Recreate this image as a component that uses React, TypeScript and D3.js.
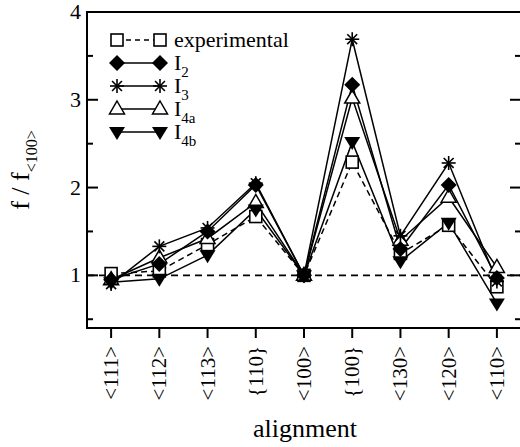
import React, { useEffect, useRef } from 'react';
import * as d3 from 'd3';

const categories = ['<111>', '<112>', '<113>', '{110}', '<100>', '{100}', '<130>', '<120>', '<110>'];
const experimental = [1.02, 1.05, 1.35, 1.67, 1.0, 2.29, 1.25, 1.57, 0.87];
const i2 = [0.95, 1.13, 1.5, 2.03, 1.0, 3.17, 1.3, 2.03, 0.97];
const i3 = [0.9, 1.33, 1.54, 2.05, 1.0, 3.69, 1.45, 2.28, 0.93];
const i4a = [0.95, 1.2, 1.42, 1.83, 1.0, 3.02, 1.4, 1.89, 1.09];
const i4b = [0.92, 0.96, 1.23, 1.75, 1.0, 2.52, 1.16, 1.6, 0.68];
const yTicks = [1, 2, 3, 4];
const yMinor = [0.5, 1.5, 2.5, 3.5];

type Series = { key: string; sub: string; values: number[]; marker: string; dashed: boolean };
const series: Series[] = [
  { key: 'experimental', sub: '', values: experimental, marker: 'square', dashed: true },
  { key: 'I', sub: '2', values: i2, marker: 'diamond', dashed: false },
  { key: 'I', sub: '3', values: i3, marker: 'star', dashed: false },
  { key: 'I', sub: '4a', values: i4a, marker: 'triangle', dashed: false },
  { key: 'I', sub: '4b', values: i4b, marker: 'invtriangle', dashed: false },
];
// open markers go under the filled ones
const drawOrder = [0, 3, 1, 2, 4];

const FONT = 'Times New Roman, Times, Liberation Serif, DejaVu Serif, serif';

function drawMarker(g: any, type: string, x: number, y: number) {
  if (type === 'square') {
    g.append('rect').attr('x', x - 6).attr('y', y - 6).attr('width', 12).attr('height', 12)
      .attr('fill', '#fff').attr('stroke', '#000').attr('stroke-width', 1.6);
  } else if (type === 'diamond') {
    g.append('path').attr('d', `M${x},${y - 8}L${x + 8},${y}L${x},${y + 8}L${x - 8},${y}Z`)
      .attr('fill', '#000');
  } else if (type === 'triangle') {
    g.append('path').attr('d', `M${x},${y - 8}L${x + 7.5},${y + 5}L${x - 7.5},${y + 5}Z`)
      .attr('fill', '#fff').attr('stroke', '#000').attr('stroke-width', 1.5);
  } else if (type === 'invtriangle') {
    g.append('path').attr('d', `M${x},${y + 8}L${x + 8},${y - 5}L${x - 8},${y - 5}Z`)
      .attr('fill', '#000');
  } else if (type === 'star') {
    const r = 7;
    for (let k = 0; k < 4; k++) {
      const a = (k * Math.PI) / 4;
      g.append('line')
        .attr('x1', x - r * Math.cos(a)).attr('y1', y - r * Math.sin(a))
        .attr('x2', x + r * Math.cos(a)).attr('y2', y + r * Math.sin(a))
        .attr('stroke', '#000').attr('stroke-width', 1.6);
    }
  }
}

function Chart() {
  const ref = useRef<SVGSVGElement>(null);

  useEffect(() => {
    const svg = d3.select(ref.current);
    svg.selectAll('*').remove();

    const left = 87, right = 521, top = 12, bottom = 328;
    const x = d3.scaleLinear().domain([-0.5, 8.5]).range([left, right]);
    const y = d3.scaleLinear().domain([0.4, 4]).range([bottom, top]);

    // frame
    svg.append('rect').attr('x', left).attr('y', top).attr('width', right - left).attr('height', bottom - top)
      .attr('fill', 'none').attr('stroke', '#000').attr('stroke-width', 2);

    // y ticks (inside, both sides)
    yTicks.forEach(t => {
      svg.append('line').attr('x1', left).attr('x2', left + 11).attr('y1', y(t)).attr('y2', y(t))
        .attr('stroke', '#000').attr('stroke-width', 2);
      svg.append('line').attr('x1', right).attr('x2', right - 11).attr('y1', y(t)).attr('y2', y(t))
        .attr('stroke', '#000').attr('stroke-width', 2);
      svg.append('text').attr('x', 81).attr('y', y(t) + 7).attr('text-anchor', 'end')
        .style('font-family', FONT).attr('font-size', 22).text(String(t));
    });
    yMinor.forEach(t => {
      svg.append('line').attr('x1', left).attr('x2', left + 6).attr('y1', y(t)).attr('y2', y(t))
        .attr('stroke', '#000').attr('stroke-width', 2);
      svg.append('line').attr('x1', right).attr('x2', right - 6).attr('y1', y(t)).attr('y2', y(t))
        .attr('stroke', '#000').attr('stroke-width', 2);
    });

    // x ticks (outside)
    categories.forEach((c, i) => {
      svg.append('line').attr('x1', x(i)).attr('x2', x(i)).attr('y1', bottom).attr('y2', bottom + 10)
        .attr('stroke', '#000').attr('stroke-width', 2);
      svg.append('text')
        .attr('transform', `translate(${x(i) + 7},${346}) rotate(-90)`)
        .attr('text-anchor', 'end')
        .style('font-family', FONT).attr('font-size', 21).text(c);
    });

    // axis titles
    svg.append('text').attr('x', 305).attr('y', 437).attr('text-anchor', 'middle')
      .style('font-family', FONT).attr('font-size', 26).text('alignment');
    const yl = svg.append('text').attr('transform', `translate(29,${170}) rotate(-90)`)
      .attr('text-anchor', 'middle').style('font-family', FONT).attr('font-size', 26);
    yl.append('tspan').text('f / f');
    yl.append('tspan').attr('font-size', 16).attr('dy', 8).text('<100>');

    // reference line at 1
    svg.append('line').attr('x1', left).attr('x2', right).attr('y1', y(1)).attr('y2', y(1))
      .attr('stroke', '#000').attr('stroke-width', 1.6).attr('stroke-dasharray', '7,5');

    const line = d3.line<number>().x((_, i) => x(i)).y(d => y(d));
    const plot = svg.append('g');
    series.forEach(s => {
      plot.append('path').attr('d', line(s.values)).attr('fill', 'none').attr('stroke', '#000')
        .attr('stroke-width', 1.5).attr('stroke-dasharray', s.dashed ? '6,4' : null);
    });
    drawOrder.forEach(k => {
      const s = series[k];
      s.values.forEach((v, i) => drawMarker(plot, s.marker, x(i), y(v)));
    });

    // legend
    const lg = svg.append('g');
    series.forEach((s, i) => {
      const ly = 40 + i * 23;
      lg.append('line').attr('x1', 117).attr('x2', 160).attr('y1', ly).attr('y2', ly)
        .attr('stroke', '#000').attr('stroke-width', 1.5).attr('stroke-dasharray', s.dashed ? '5,4' : null);
      drawMarker(lg, s.marker, 117, ly);
      drawMarker(lg, s.marker, 160, ly);
      const t = lg.append('text').attr('x', 174).attr('y', ly + 7).style('font-family', FONT).attr('font-size', 22);
      t.append('tspan').text(s.key);
      if (s.sub) t.append('tspan').attr('font-size', 15).attr('dy', 7).text(s.sub);
    });
  }, []);

  return <svg ref={ref} width={520} height={447} style={{ position: 'absolute', left: 0, top: 0 }} />;
}

export default function App() {
  return <Chart />;
}
